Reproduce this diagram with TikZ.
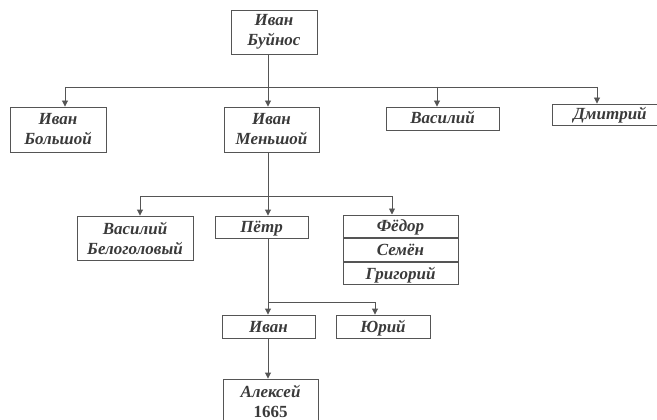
\documentclass[tikz,border=0pt]{standalone}
\usepackage{fontspec}
\setmainfont{Liberation Serif}
\usetikzlibrary{arrows.meta, positioning}
\definecolor{LineGray}{HTML}{555555}
\definecolor{TextGray}{HTML}{3A3A3A}

\begin{document}
\begin{tikzpicture}[x=1pt, y=-1pt,
            box/.style={rectangle, draw=LineGray, line width=0.9pt, inner sep=0pt, align=center, text=TextGray, font=\fontsize{17}{20}\selectfont\itshape\bfseries},
            one/.style={box, text height=13pt, text depth=2pt},
            link/.style={draw=LineGray, line width=0.9pt},
            arr/.style={link, -{Triangle[length=6pt, width=6pt]}}
        ]
            \useasboundingbox (0,0) rectangle (657,420);
            \coordinate (trunk) at (268,0);
            \node[box, minimum width=86pt, minimum height=44pt] (buinos) at (274,32) {Иван\\Буйнос};
            \node[box, minimum width=96pt, minimum height=45pt] (bolshoi) at (58,129.5) {Иван\\Большой};
            \node[box, minimum width=95pt, minimum height=45pt] (menshoi) at (271.5,129.5) {Иван\\Меньшой};
            \node[one, minimum width=113pt, minimum height=23pt] (vasiliy) at (442.5,118.5) {Василий};
            \node[one, minimum width=116pt, minimum height=21pt] (dmitriy) at (610,114.5) {Дмитрий};
            \node[box, minimum width=116pt, minimum height=44pt] (belogolovy) at (135,238) {Василий\\Белоголовый};
            \node[one, minimum width=93pt, minimum height=22pt] (pyotr) at (261.5,227) {Пётр};
            \node[one, minimum width=115pt, minimum height=22.7pt] (fedor) at (400.5,226.3) {Фёдор};
            \node[one, minimum width=115pt, minimum height=22.7pt, below=0pt of fedor] (semen) {Семён};
            \node[one, minimum width=115pt, minimum height=22.7pt, below=0pt of semen] (grigoriy) {Григорий};
            \node[one, minimum width=93pt, minimum height=23pt] (ivan) at (268.5,326.5) {Иван};
            \node[one, minimum width=94pt, minimum height=23pt] (yuriy) at (383,326.5) {Юрий};
            \node[box, minimum width=95pt, minimum height=44pt] (aleksey) at (270.5,401) {Алексей\\\upshape 1665};

            \coordinate (bus1) at (268,87);
            \coordinate (d1) at (65,87);
            \coordinate (d3) at (437,87);
            \coordinate (d4) at (597,87);
            \draw[link] (buinos.south -| trunk) -- (bus1);
            \draw[link] (d1) -- (d4);
            \draw[arr] (d1) -- (d1 |- bolshoi.north);
            \draw[arr] (bus1) -- (menshoi.north -| trunk);
            \draw[arr] (d3) -- (d3 |- vasiliy.north);
            \draw[arr] (d4) -- (d4 |- dmitriy.north);

            \coordinate (bus2) at (268,196);
            \coordinate (e1) at (140,196);
            \coordinate (e3) at (392,196);
            \draw[link] (menshoi.south -| trunk) -- (bus2);
            \draw[link] (e1) -- (e3);
            \draw[arr] (e1) -- (e1 |- belogolovy.north);
            \draw[arr] (bus2) -- (pyotr.north -| trunk);
            \draw[arr] (e3) -- (e3 |- fedor.north);

            \coordinate (bus3) at (268,302);
            \coordinate (f2) at (375,302);
            \draw[link] (pyotr.south -| trunk) -- (bus3);
            \draw[link] (bus3) -- (f2);
            \draw[arr] (bus3) -- (ivan.north -| trunk);
            \draw[arr] (f2) -- (f2 |- yuriy.north);
            \draw[arr] (ivan.south -| trunk) -- (aleksey.north -| trunk);
        \end{tikzpicture}
\end{document}
